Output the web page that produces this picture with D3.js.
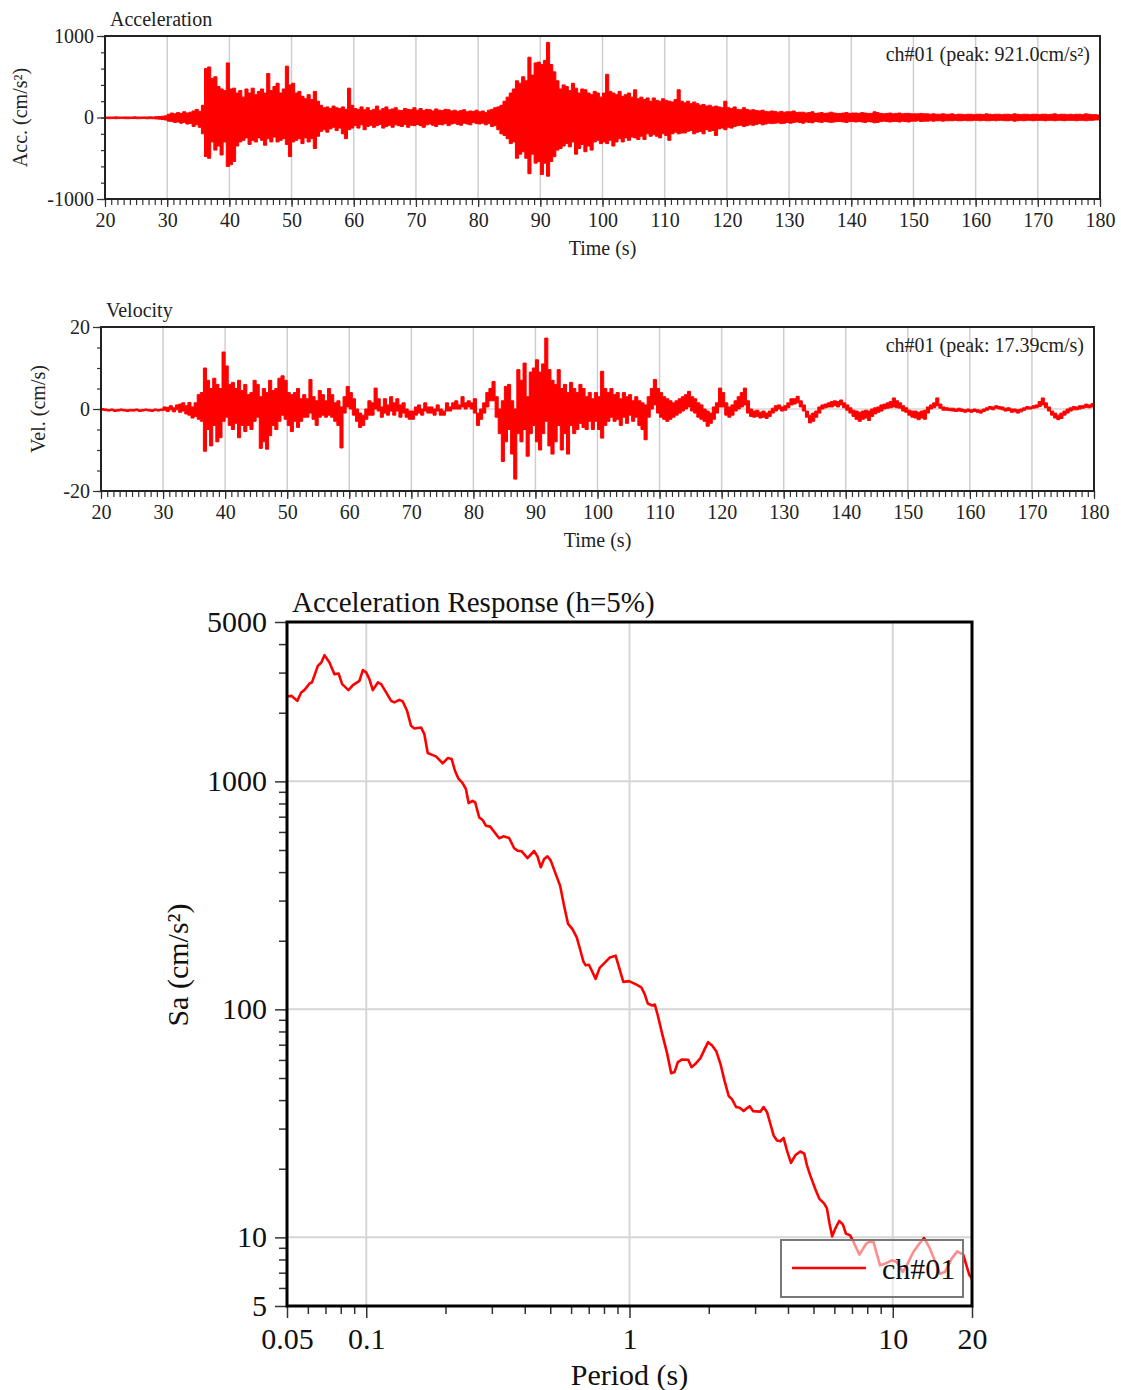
<!DOCTYPE html>
<html>
<head>
<meta charset="utf-8">
<script src="https://cdn.jsdelivr.net/npm/d3@7/dist/d3.min.js"></script>
<style>
  body { margin: 0; background: #fff; }
  svg { display: block; }
</style>
</head>
<body>
<svg id="chart" width="1121" height="1390"></svg>
<script>
// ---- time histories: max / min of the trace in each 0.5 s window, 20 s .. 180 s ----
const traceStart = 20;
const traceStep = 0.5;

// acceleration (cm/s^2), one row per 10 s (last value closes the 180 s end)
const accMax = [
  5, 6, 5, 8, 6, 5, 7, 6, 5, 8, 6, 5, 7, 6, 8, 6, 10, 12, 15, 20,
  40, 55, 45, 60, 50, 70, 55, 65, 80, 100, 75, 150, 600, 620, 480, 500, 380, 350, 330, 670,
  350, 360, 300, 330, 250, 350, 300, 360, 280, 320, 350, 300, 540, 330, 380, 420, 300, 350, 630, 400,
  420, 300, 320, 260, 230, 280, 220, 320, 200, 150, 120, 130, 110, 140, 120, 110, 130, 100, 360, 150,
  110, 100, 130, 95, 120, 85, 100, 140, 90, 110, 130, 95, 105, 120, 90, 85, 110, 100, 95, 120,
  90, 110, 85, 100, 95, 80, 105, 90, 85, 100, 95, 80, 90, 75, 85, 95, 70, 80, 75, 90,
  70, 80, 60, 90, 100, 120, 130, 150, 200, 250, 300, 350, 450, 420, 500, 450, 740, 520, 670, 680,
  650, 700, 921, 650, 560, 450, 350, 400, 380, 330, 420, 360, 300, 350, 340, 300, 280, 320, 300, 250,
  300, 530, 320, 300, 280, 320, 260, 280, 300, 250, 340, 230, 250, 220, 240, 200, 240, 210, 200, 230,
  210, 200, 190, 220, 340, 200, 180, 200, 170, 190, 170, 150, 160, 140, 150, 130, 140, 130, 120, 200,
  120, 110, 130, 100, 95, 120, 100, 90, 95, 85, 80, 90, 75, 70, 80, 75, 65, 75, 65, 70,
  70, 80, 60, 65, 65, 55, 60, 70, 50, 55, 60, 50, 55, 65, 55, 50, 50, 55, 60, 50,
  55, 55, 50, 60, 55, 50, 50, 70, 60, 50, 45, 50, 55, 45, 50, 55, 45, 50, 50, 45,
  45, 45, 50, 45, 45, 40, 45, 40, 40, 45, 40, 40, 45, 35, 40, 40, 35, 40, 40, 35,
  40, 40, 35, 45, 40, 35, 40, 40, 35, 40, 40, 35, 45, 40, 35, 40, 40, 35, 40, 40,
  35, 40, 40, 35, 40, 45, 35, 40, 40, 35, 40, 35, 40, 40, 35, 45, 40, 35, 35, 30,
  30
];
const accMin = [
  -12, -14, -12, -15, -13, -12, -14, -15, -12, -13, -15, -14, -12, -16, -14, -15, -18, -20, -25, -30,
  -45, -50, -60, -55, -70, -60, -80, -75, -110, -90, -120, -200, -480, -500, -300, -400, -350, -460, -300, -600,
  -580, -540, -350, -300, -280, -250, -330, -280, -300, -250, -280, -340, -260, -300, -240, -300, -280, -260, -330, -480,
  -300, -280, -260, -320, -250, -300, -260, -380, -230, -170, -150, -180, -140, -120, -160, -130, -200, -260, -150, -130,
  -100, -130, -90, -150, -110, -95, -120, -100, -85, -130, -110, -95, -120, -90, -100, -110, -85, -120, -95, -100,
  -85, -100, -120, -90, -80, -95, -110, -85, -90, -75, -100, -80, -70, -85, -95, -70, -80, -90, -60, -75,
  -80, -70, -90, -75, -110, -100, -150, -200, -220, -260, -320, -300, -500, -450, -420, -500, -690, -450, -560, -540,
  -700, -560, -720, -540, -480, -400, -380, -350, -320, -360, -300, -450, -380, -330, -420, -350, -400, -300, -280, -320,
  -300, -320, -280, -350, -300, -260, -300, -250, -280, -240, -250, -270, -230, -270, -200, -230, -210, -230, -250, -200,
  -220, -280, -200, -180, -200, -190, -190, -170, -160, -200, -180, -170, -200, -150, -170, -160, -220, -140, -130, -150,
  -120, -130, -110, -100, -95, -110, -100, -90, -95, -85, -75, -90, -80, -70, -75, -70, -65, -75, -70, -60,
  -70, -60, -55, -60, -70, -55, -60, -65, -50, -55, -60, -50, -55, -60, -55, -50, -50, -55, -60, -50,
  -50, -55, -50, -55, -60, -50, -55, -65, -60, -50, -45, -50, -55, -50, -50, -55, -45, -50, -55, -45,
  -45, -40, -50, -45, -45, -40, -45, -40, -40, -45, -40, -40, -40, -35, -40, -40, -35, -40, -40, -35,
  -35, -40, -35, -40, -40, -35, -40, -35, -35, -40, -40, -35, -45, -40, -35, -40, -35, -35, -40, -35,
  -35, -35, -40, -35, -35, -40, -35, -35, -40, -35, -35, -35, -40, -35, -35, -40, -35, -35, -30, -30,
  -30
];

// velocity (cm/s), one row per 10 s
const velMax = [
  0.1, 0, -0.1, 0, -0.2, -0.1, 0, -0.1, -0.2, -0.1, -0.1, 0, -0.2, -0.1, 0, -0.1, -0.2, 0, -0.1, 0,
  0.5, 0.4, 0.8, 0.3, 1.0, 1.2, 1.5, 0.8, 1.6, 0.5, 1.5, 3.5, 4, 10, 7, 5, 7.5, 6, 5, 13.9,
  10.5, 6, 6.5, 5, 7, 4.5, 6, 3.5, 4, 7, 6, 3, 5, 4, 7, 4.5, 5, 7.5, 8.1, 7,
  4, 3.5, 4, 5, 2.5, 3.5, 2.5, 7.2, 3, 2, 4.5, 3.5, 2, 5, 3.5, 1.5, 2, 0.5, 3, 5.5,
  4, 2.5, 0, -1, -1.5, 0, 2, 1.5, 5.1, 2.5, 0.5, 2.5, 1, 3, 1.5, 2.5, 1, 1.5, 0, -0.5,
  -0.5, 0.5, 1, 0, 1.5, 0.5, 0.5, 0, 1, 0, -0.5, 1.5, 0.5, 1.5, 2, 1, 3, 1.5, 2, 1.5,
  2.5, -1, 0, 1.5, 4, 5, 6.7, 3, 0, 2, 5.5, 6, 2, 0, 9.6, 7, 11.2, 3, 9, 10,
  12, 9, 11, 17.3, 9.6, 7, 6, 9.6, 5, 6, 4, 6.5, 5, 4, 6, 5, 3, 4, 2.5, 4,
  3, 9.2, 5, 4, 5, 3.5, 4, 2.5, 4, 3, 3.5, 2, 3, 2, 1.5, 1, 3, 5, 7.2, 5,
  4, 3, 2.5, 2, 1.5, 2, 2.5, 3, 3.5, 4.3, 3, 2.5, 1.5, 1, 0, -0.5, -1, 0.5, 1.5, 5.1,
  4, 1.5, 0.5, 1, 2, 3, 4, 5.1, 2, 0, -0.5, -0.3, -0.8, -0.5, -1, -0.5, 0.2, 0.8, 1, 0.5,
  0.8, 1.5, 2.5, 2.5, 3.1, 2, 1, -0.5, -1.5, -1, -0.5, 0.5, 1, 1.2, 1.5, 1.8, 2, 1.8, 2.2, 1.5,
  1, 0.3, -0.3, -0.5, -0.8, -0.5, -0.3, -0.5, 0, 0.3, 0.5, 1, 1.2, 1.5, 1.8, 2.7, 2, 1.5, 0.8, 0.3,
  -0.3, -0.5, -0.5, -0.8, -0.5, -0.3, 0.5, 1, 1.5, 2.7, 1.2, 0.5, 0.3, 0.2, 0.2, 0, 0.2, 0, -0.2, 0,
  -0.2, 0, -0.2, -0.3, 0, 0.3, 0.6, 0.5, 0.8, 0.6, 0.5, 0.2, 0.3, 0, 0, -0.2, 0, 0.3, 0.6, 0.5,
  0.8, 1, 1.8, 2.7, 1.5, 0.5, -0.5, -1, -1.5, -1, -0.5, 0, 0.3, 0.6, 0.5, 0.8, 0.8, 1.2, 1, 1.3,
  1.2
];
const velMin = [
  -0.3, -0.4, -0.5, -0.4, -0.6, -0.5, -0.4, -0.5, -0.6, -0.5, -0.5, -0.4, -0.6, -0.5, -0.4, -0.5, -0.6, -0.4, -0.5, -0.4,
  -0.3, -0.6, -0.2, -0.7, -0.2, -0.8, -0.5, -1.2, -1.5, -2.2, -1.8, -2.5, -3, -10.3, -5, -9, -4, -8, -7, -3,
  -2, -4, -5, -3.5, -7, -4, -5.5, -4, -5, -3, -2, -9.6, -8, -9.8, -6.5, -4, -5, -3, -1.5, -2.5,
  -4, -5.5, -3, -4.5, -3, -2, -2, -1, -2.5, -4, -2, -1.5, -2, -1.5, -2, -3, -4, -9.5, -1, 0.5,
  0, -1.5, -3, -4.5, -4, -2.5, -1.5, -1.5, 0, -0.5, -2, -1, -1.5, -0.5, -1.5, -0.5, -2, -1, -2, -2.5,
  -2.5, -1.5, -1, -1.5, -0.5, -1, -1, -1.5, -0.5, -1.5, -1.5, -0.5, -0.5, 0, 0, 0, 0.5, 0, 0.5, 0,
  -1, -4, -2.5, -1, 0.5, 2, 2, -2, -6, -12.8, -8, -5, -11, -17.1, -6, -8, -5, -11.5, -6, -4,
  -8, -10, -6, -3, -9, -11, -8, -4, -10, -6, -11, -4, -6, -5, -3.5, -4.5, -5, -3, -5, -3,
  -5, -7.1, -4, -3, -2, -3, -2.5, -4, -2, -3.5, -1.5, -3, -2, -4, -5, -7.5, -2, 0, 1, -1,
  -2, -2.5, -3, -2.5, -2, -1.5, -1, -0.5, 0, 0.5, -0.5, -1, -2, -2.5, -3, -4.2, -3.5, -2.5, -1, 0.5,
  0.5, -1.5, -2, -1.5, -0.5, 0, 0.5, 1, -1, -1.8, -2, -1.8, -2.2, -2, -2.3, -1.8, -1, -0.5, 0, -0.5,
  -0.3, 0.3, 1, 1.2, 1.5, 0.5, -0.5, -2, -3.4, -3, -2, -1, 0, 0.3, 0.5, 0.5, 0.8, 0.5, 1, 0.3,
  -0.3, -1, -1.8, -2.5, -3, -2.5, -2.2, -2.8, -1.8, -1.2, -0.8, -0.5, 0, 0.2, 0.3, 0.5, 0.3, 0.2, -0.5, -0.8,
  -1.5, -2, -2.2, -2.6, -2.2, -2.5, -1, 0, 0.3, 0.8, 0.2, -0.3, -0.3, -0.4, -0.5, -0.6, -0.5, -0.6, -0.8, -0.6,
  -0.8, -0.6, -0.8, -1, -0.6, -0.3, 0, -0.2, 0.2, 0, -0.2, -0.5, -0.4, -0.8, -0.7, -1, -0.7, -0.3, 0, 0,
  0.2, 0.3, 0.6, 1, 0.3, -0.5, -1.5, -2.2, -2.6, -2.3, -1.5, -1, -0.5, -0.2, -0.2, 0, 0.2, 0.4, 0.3, 0.5,
  0.5
];

const timeTicks = [20, 30, 40, 50, 60, 70, 80, 90, 100, 110, 120, 130, 140, 150, 160, 170, 180];
const accTicks = [-1000, 0, 1000];
const velTicks = [-20, 0, 20];

// ---- acceleration response spectrum (h=5%) ----
const specPeriod = [
  0.050, 0.0519, 0.0547, 0.0566, 0.0583, 0.0609, 0.0622, 0.0655, 0.0675, 0.0694,
  0.0725, 0.0757, 0.0785, 0.0810, 0.0856, 0.0890, 0.0942, 0.0971, 0.0999, 0.1028,
  0.1059, 0.1107, 0.1139, 0.1190, 0.1243, 0.1279, 0.1336, 0.1376, 0.1429, 0.1480,
  0.1523, 0.1615, 0.1662, 0.1712, 0.1789, 0.1841, 0.1952, 0.2039, 0.2111, 0.2173,
  0.2236, 0.2323, 0.2391, 0.2448, 0.2535, 0.2593, 0.2686, 0.2767, 0.2848, 0.2957,
  0.3198, 0.3323, 0.3490, 0.3646, 0.3756, 0.3889, 0.4099, 0.4342, 0.4472, 0.4603,
  0.4737, 0.4880, 0.5022, 0.5247, 0.5448, 0.5643, 0.5843, 0.6071, 0.6303, 0.6486,
  0.6682, 0.6817, 0.7016, 0.7437, 0.7701, 0.8045, 0.8426, 0.8858, 0.9473, 0.9948,
  1.0546, 1.1085, 1.141, 1.174, 1.220, 1.248, 1.281, 1.331, 1.391, 1.440,
  1.483, 1.526, 1.586, 1.671, 1.720, 1.781, 1.860, 1.926, 1.989, 2.060,
  2.139, 2.215, 2.294, 2.381, 2.453, 2.540, 2.621, 2.714, 2.797, 2.860,
  2.946, 3.141, 3.232, 3.330, 3.427, 3.527, 3.634, 3.740, 3.849, 3.965,
  4.106, 4.263, 4.453, 4.611, 4.721, 4.859, 5.077, 5.257, 5.492, 5.622,
  5.751, 5.888, 6.044, 6.258, 6.464, 6.635, 6.889, 7.090, 7.472, 7.922,
  8.153, 8.443, 8.951, 9.350, 9.913, 10.36, 10.91, 11.30, 11.97, 12.61,
  13.14, 13.85, 14.59, 15.11, 15.79, 16.74, 17.58, 18.52, 19.52, 20.0
];
const specSa = [
  2358, 2372, 2255, 2455, 2520, 2688, 2716, 3211, 3323, 3577,
  3323, 2953, 2974, 2669, 2512, 2642, 2759, 3075, 3005, 2807,
  2512, 2716, 2669, 2455, 2255, 2219, 2278, 2242, 2039, 1752,
  1707, 1724, 1612, 1331, 1304, 1287, 1199, 1265, 1252, 1113,
  1031, 983, 925, 803, 822, 809, 695, 677, 639, 633,
  563, 574, 564, 509, 497, 494, 461, 495, 469, 420,
  456, 469, 449, 392, 349, 285, 237, 225, 207, 184,
  162, 156, 157, 136, 152, 160, 169, 172, 132, 133,
  129, 125, 117, 106, 104, 105, 94, 78.1, 63.8, 52.5,
  53.1, 58.7, 60.3, 60.1, 55.8, 57.7, 61.1, 66.6, 71.8, 69.4,
  65.3, 57.7, 48.8, 41.7, 40.3, 37.3, 37.0, 35.8, 36.9, 37.6,
  35.8, 35.6, 37.3, 35.4, 31.5, 28.0, 26.6, 26.4, 27.3, 24.0,
  21.2, 22.9, 23.8, 23.3, 20.7, 18.7, 16.3, 14.8, 14.05, 13.4,
  11.5, 10.1, 10.9, 11.8, 11.4, 10.4, 10.2, 9.55, 8.40, 9.38,
  9.55, 9.55, 7.54, 7.67, 7.93, 7.80, 7.05, 7.54, 8.63, 9.38,
  9.94, 8.92, 7.67, 6.93, 7.05, 8.07, 8.68, 8.40, 6.86, 6.59
];
const periodMajor = [0.05, 0.1, 1, 10, 20];
const periodMinor = [0.06, 0.07, 0.08, 0.09, 0.2, 0.3, 0.4, 0.5, 0.6, 0.7, 0.8, 0.9, 2, 3, 4, 5, 6, 7, 8, 9];
const saMajor = [5, 10, 100, 1000, 5000];
const saMinor = [6, 7, 8, 9, 20, 30, 40, 50, 60, 70, 80, 90, 200, 300, 400, 500, 600, 700, 800, 900, 2000, 3000, 4000];

const RED = '#ff0000';
const svg = d3.select('#chart');

function drawTrace(opt) {
    const { left, right, top, bottom, maxValues, minValues, yDomain, yTicks, yMinorStep, title, yLabel, yLabelX, peakText } = opt;
    const font = 'Liberation Serif, Times New Roman, serif';
    const g = svg.append('g');

    const x = d3.scaleLinear().domain([20, 180]).range([left, right]);
    const y = d3.scaleLinear().domain(yDomain).range([bottom, top]);

    // grid
    g.append('g').selectAll('line')
        .data(timeTicks.slice(1, -1))
        .join('line')
        .attr('x1', d => x(d)).attr('x2', d => x(d))
        .attr('y1', top).attr('y2', bottom)
        .attr('stroke', '#cfcfcf').attr('stroke-width', 1.5);
    g.append('line')
        .attr('x1', left).attr('x2', right)
        .attr('y1', y(0)).attr('y2', y(0))
        .attr('stroke', '#d8d8d8').attr('stroke-width', 1.5);

    // trace, drawn as the min/max band of each window
    const band = d3.area()
        .curve(d3.curveStepAfter)
        .x((d, i) => x(traceStart + i * traceStep))
        .y0((d, i) => y(minValues[i]))
        .y1(d => y(d));
    g.append('path')
        .datum(maxValues)
        .attr('fill', RED)
        .attr('stroke', RED)
        .attr('stroke-width', 1)
        .attr('d', band);

    // minor ticks
    const minorX = d3.range(20, 181, 1);
    g.append('g')
        .attr('transform', `translate(0,${bottom})`)
        .call(d3.axisBottom(x).tickValues(minorX).tickSize(6).tickFormat(''))
        .call(s => s.select('.domain').remove());
    const minorY = d3.range(yDomain[0], yDomain[1] + 1e-9, yMinorStep);
    g.append('g')
        .attr('transform', `translate(${left},0)`)
        .call(d3.axisLeft(y).tickValues(minorY).tickSize(4).tickFormat(''))
        .call(s => s.select('.domain').remove());

    // major ticks with labels
    const xAxis = g.append('g')
        .attr('transform', `translate(0,${bottom})`)
        .call(d3.axisBottom(x).tickValues(timeTicks).tickSize(8).tickPadding(6).tickFormat(d => String(d)));
    xAxis.select('.domain').remove();
    const yAxis = g.append('g')
        .attr('transform', `translate(${left},0)`)
        .call(d3.axisLeft(y).tickValues(yTicks).tickSize(8).tickPadding(3).tickFormat(d => String(d)));
    yAxis.select('.domain').remove();
    g.selectAll('.tick line').attr('stroke', '#333').attr('stroke-width', 1.2);
    g.selectAll('.tick text')
        .attr('fill', '#222')
        .style('font-family', font)
        .style('font-size', '20px');

    // frame
    g.append('rect')
        .attr('x', left).attr('y', top)
        .attr('width', right - left).attr('height', bottom - top)
        .attr('fill', 'none').attr('stroke', '#222').attr('stroke-width', 2);

    // texts
    g.append('text')
        .attr('x', left + 5).attr('y', top - 10)
        .style('font-family', font).style('font-size', '20px').attr('fill', '#222')
        .text(title);
    g.append('text')
        .attr('x', right - 10).attr('y', top + 25)
        .attr('text-anchor', 'end')
        .style('font-family', font).style('font-size', '20px').attr('fill', '#222')
        .text(peakText);
    g.append('text')
        .attr('x', (left + right) / 2).attr('y', bottom + 56)
        .attr('text-anchor', 'middle')
        .style('font-family', font).style('font-size', '20px').attr('fill', '#222')
        .text('Time (s)');
    g.append('text')
        .attr('transform', `translate(${yLabelX},${(top + bottom) / 2}) rotate(-90)`)
        .attr('text-anchor', 'middle')
        .style('font-family', font).style('font-size', '20px').attr('fill', '#222')
        .text(yLabel);
}

drawTrace({
    left: 105, right: 1100, top: 36, bottom: 199,
    maxValues: accMax, minValues: accMin, yDomain: [-1000, 1000], yTicks: accTicks, yMinorStep: 200,
    title: 'Acceleration', yLabel: 'Acc. (cm/s²)', yLabelX: 27,
    peakText: 'ch#01 (peak: 921.0cm/s²)'
});

drawTrace({
    left: 101, right: 1094, top: 327, bottom: 491,
    maxValues: velMax, minValues: velMin, yDomain: [-20, 20], yTicks: velTicks, yMinorStep: 5,
    title: 'Velocity', yLabel: 'Vel. (cm/s)', yLabelX: 45,
    peakText: 'ch#01 (peak: 17.39cm/s)'
});

// ---- response spectrum ----
(function drawSpectrum() {
    const left = 287, right = 972, top = 622, bottom = 1306;
    const font = 'Liberation Serif, Times New Roman, serif';
    const g = svg.append('g');

    const x = d3.scaleLog().domain([0.05, 20]).range([left, right]);
    const y = d3.scaleLog().domain([5, 5000]).range([bottom, top]);

    // grid
    g.append('g').selectAll('line')
        .data([0.1, 1, 10])
        .join('line')
        .attr('x1', d => x(d)).attr('x2', d => x(d))
        .attr('y1', top).attr('y2', bottom)
        .attr('stroke', '#d6d6d6').attr('stroke-width', 2);
    g.append('g').selectAll('line')
        .data([10, 100, 1000])
        .join('line')
        .attr('x1', left).attr('x2', right)
        .attr('y1', d => y(d)).attr('y2', d => y(d))
        .attr('stroke', '#d6d6d6').attr('stroke-width', 2);

    const line = d3.line()
        .x((d, i) => x(specPeriod[i]))
        .y(d => y(d));
    g.append('path')
        .datum(specSa)
        .attr('fill', 'none')
        .attr('stroke', RED)
        .attr('stroke-width', 2.6)
        .attr('stroke-linejoin', 'round')
        .attr('d', line);

    // axes
    g.append('g')
        .attr('transform', `translate(0,${bottom})`)
        .call(d3.axisBottom(x).tickValues(periodMinor).tickSize(8).tickFormat(''))
        .call(s => s.select('.domain').remove());
    g.append('g')
        .attr('transform', `translate(${left},0)`)
        .call(d3.axisLeft(y).tickValues(saMinor).tickSize(8).tickFormat(''))
        .call(s => s.select('.domain').remove());
    g.append('g')
        .attr('transform', `translate(0,${bottom})`)
        .call(d3.axisBottom(x).tickValues(periodMajor).tickSize(12).tickPadding(10).tickFormat(d => String(d)))
        .call(s => s.select('.domain').remove());
    g.append('g')
        .attr('transform', `translate(${left},0)`)
        .call(d3.axisLeft(y).tickValues(saMajor).tickSize(12).tickPadding(8).tickFormat(d => String(d)))
        .call(s => s.select('.domain').remove());
    g.selectAll('.tick line').attr('stroke', '#333').attr('stroke-width', 1.5);
    g.selectAll('.tick text')
        .attr('fill', '#111')
        .style('font-family', font)
        .style('font-size', '30px');

    g.append('rect')
        .attr('x', left).attr('y', top)
        .attr('width', right - left).attr('height', bottom - top)
        .attr('fill', 'none').attr('stroke', '#000').attr('stroke-width', 3);

    g.append('text')
        .attr('x', left + 5).attr('y', top - 10)
        .style('font-family', font).style('font-size', '29px').attr('fill', '#111')
        .text('Acceleration Response (h=5%)');
    g.append('text')
        .attr('x', x(1)).attr('y', 1385)
        .attr('text-anchor', 'middle')
        .style('font-family', font).style('font-size', '30px').attr('fill', '#111')
        .text('Period (s)');
    g.append('text')
        .attr('transform', `translate(188,965) rotate(-90)`)
        .attr('text-anchor', 'middle')
        .style('font-family', font).style('font-size', '30px').attr('fill', '#111')
        .text('Sa (cm/s²)');

    // legend
    const lg = g.append('g').attr('transform', 'translate(781,1240)');
    lg.append('rect')
        .attr('width', 182).attr('height', 57)
        .attr('fill', '#fff').attr('fill-opacity', 0.55)
        .attr('stroke', '#777').attr('stroke-width', 2);
    lg.append('line')
        .attr('x1', 11).attr('x2', 85).attr('y1', 28).attr('y2', 28)
        .attr('stroke', RED).attr('stroke-width', 2.5);
    lg.append('text')
        .attr('x', 101).attr('y', 39)
        .style('font-family', font).style('font-size', '30px').attr('fill', '#111')
        .text('ch#01');
})();
</script>
</body>
</html>
